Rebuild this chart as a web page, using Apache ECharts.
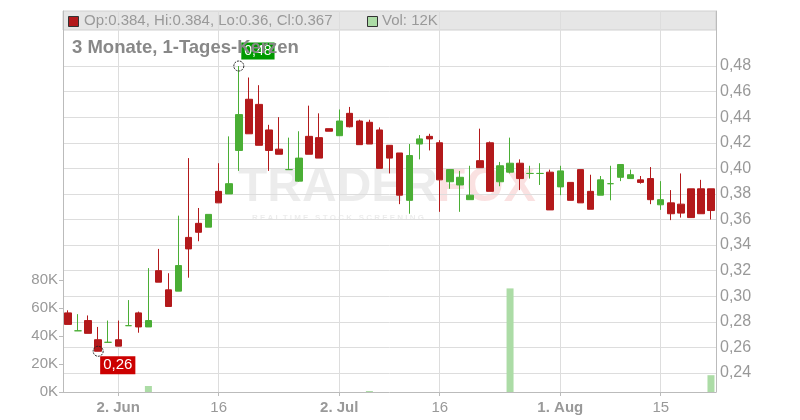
<!DOCTYPE html>
<html><head><meta charset="utf-8">
<script src="https://cdn.jsdelivr.net/npm/echarts@6/dist/echarts.min.js"></script>
<style>html,body{margin:0;padding:0;background:#fff}#c{width:800px;height:420px}</style>
</head><body><div id="c"></div>
<script>
const dates = [
 '2025-05-26','2025-05-27','2025-05-28','2025-05-29','2025-05-30',
 '2025-06-02','2025-06-03','2025-06-04','2025-06-05','2025-06-06',
 '2025-06-09','2025-06-10','2025-06-11','2025-06-12','2025-06-13',
 '2025-06-16','2025-06-17','2025-06-18','2025-06-19','2025-06-20',
 '2025-06-23','2025-06-24','2025-06-25','2025-06-26','2025-06-27',
 '2025-06-30','2025-07-01','2025-07-02','2025-07-03','2025-07-04',
 '2025-07-07','2025-07-08','2025-07-09','2025-07-10','2025-07-11',
 '2025-07-14','2025-07-15','2025-07-16','2025-07-17','2025-07-18',
 '2025-07-21','2025-07-22','2025-07-23','2025-07-24','2025-07-25',
 '2025-07-28','2025-07-29','2025-07-30','2025-07-31','2025-08-01',
 '2025-08-04','2025-08-05','2025-08-06','2025-08-07','2025-08-08',
 '2025-08-11','2025-08-12','2025-08-13','2025-08-14','2025-08-15',
 '2025-08-18','2025-08-19','2025-08-20','2025-08-21','2025-08-22'
];
const opens = [
 0.287,0.273,0.281,0.266,0.264, 0.266,0.277,0.287,0.276,0.320,
 0.305,0.304,0.346,0.357,0.354, 0.382,0.380,0.414,0.454,0.450,
 0.430,0.415,0.399,0.390,0.425, 0.424,0.431,0.4255,0.443,0.437,
 0.436,0.430,0.418,0.412,0.375, 0.419,0.425,0.420,0.3895,0.387,
 0.3755,0.406,0.420,0.3895,0.397, 0.404,0.396,0.396,0.397,0.3855,
 0.389,0.399,0.382,0.379,0.388, 0.393,0.392,0.391,0.392,0.3715,
 0.373,0.372,0.384,0.384,0.384
];
const closes = [
 0.278,0.273,0.271,0.257,0.264, 0.261,0.277,0.276,0.281,0.311,
 0.292,0.324,0.337,0.350,0.364, 0.373,0.388,0.442,0.427,0.418,
 0.414,0.411,0.399,0.408,0.411, 0.408,0.429,0.437,0.4325,0.4185,
 0.419,0.400,0.408,0.379,0.410, 0.423,0.423,0.391,0.399,0.393,
 0.379,0.4005,0.382,0.402,0.404, 0.392,0.396,0.396,0.3675,0.398,
 0.375,0.373,0.368,0.391,0.388, 0.403,0.395,0.389,0.3755,0.3755,
 0.3645,0.365,0.3615,0.3645,0.367
];
const lows = [
 0.278,0.273,0.271,0.257,0.264, 0.261,0.277,0.2715,0.276,0.311,
 0.292,0.304,0.3145,0.343,0.354, 0.373,0.380,0.398,0.427,0.418,
 0.398,0.411,0.399,0.3895,0.411, 0.408,0.429,0.4255,0.432,0.4185,
 0.419,0.400,0.396,0.372,0.3645, 0.407,0.414,0.366,0.384,0.366,
 0.3755,0.4005,0.382,0.386,0.396, 0.383,0.392,0.387,0.3675,0.379,
 0.375,0.373,0.368,0.379,0.375, 0.390,0.392,0.388,0.372,0.3675,
 0.3595,0.3615,0.3615,0.3645,0.360
];
const highs = [
 0.289,0.286,0.285,0.276,0.281, 0.281,0.297,0.288,0.322,0.337,
 0.318,0.363,0.408,0.369,0.364, 0.404,0.425,0.480,0.471,0.465,
 0.434,0.440,0.424,0.429,0.449, 0.443,0.431,0.446,0.448,0.438,
 0.438,0.432,0.418,0.412,0.419, 0.426,0.427,0.422,0.399,0.398,
 0.402,0.431,0.421,0.405,0.424, 0.407,0.402,0.404,0.399,0.402,
 0.389,0.399,0.395,0.394,0.402, 0.403,0.399,0.394,0.401,0.390,
 0.383,0.396,0.384,0.391,0.384
];
const volumes = [
 0,0,0,0,0, 0,0,0,4300,0,
 0,0,0,0,0, 0,0,0,0,0,
 0,0,0,0,0, 0,0,0,0,0,
 700,0,0,0,0, 0,0,0,0,0,
 0,0,0,0,74000, 0,0,0,0,0,
 0,0,0,0,0, 0,0,0,0,0,
 0,0,0,0,12000
];
const xTickIndices = [5, 15, 27, 37, 49, 59];
const xTickTexts = ['2. Jun', '16', '2. Jul', '16', '1. Aug', '15'];
const xTickBold = [true, false, true, false, true, false];
const priceMin = 0.24, priceMax = 0.48, priceStep = 0.02;
const volMax = 80000, volStep = 20000;
const titleText = '3 Monate, 1-Tages-Kerzen';

const RED = '#b3191b', GREEN = '#4aae35', VOLGREEN = '#acdca6';
const FONT = '"Liberation Sans", Arial, sans-serif';
const isTick = (i) => xTickIndices.indexOf(i) >= 0;
const comma = (v, d) => v.toFixed(d).replace('.', ',');

const candleData = opens.map((o, i) => [o, closes[i], lows[i], highs[i]]);
let hiIdx = 0, loIdx = 0;
highs.forEach((h, i) => { if (h > highs[hiIdx]) hiIdx = i; });
lows.forEach((l, i) => { if (l < lows[loIdx]) loIdx = i; });
const last = candleData.length - 1;
const fmt3 = v => String(+v.toFixed(3));
const headerText = 'Op:' + fmt3(opens[last]) + ', Hi:' + fmt3(highs[last]) + ', Lo:' + fmt3(lows[last]) + ', Cl:' + fmt3(closes[last]);
const volText = 'Vol: ' + Math.round(volumes[last] / 1000) + 'K';

const chart = echarts.init(document.getElementById('c'), null, {renderer: 'canvas'});
const L = 63, R = 84;
chart.setOption({
  animation: false,
  backgroundColor: '#fff',
  textStyle: {fontFamily: FONT},
  grid: [
    {left: L, right: R, top: 11, bottom: 28},
    {left: L, right: R, top: 66, bottom: 47},
    {left: L, right: R, top: 280, bottom: 28}
  ],
  xAxis: [
    {type: 'category', gridIndex: 0, data: dates, boundaryGap: true,
     axisLine: {lineStyle: {color: '#bbb'}},
     axisTick: {show: true, alignWithLabel: true, interval: (i) => isTick(i), length: 4, lineStyle: {color: '#bbb'}},
     axisLabel: {interval: (i) => isTick(i), margin: 8, color: '#999', fontSize: 15, fontFamily: FONT,
       formatter: (v, i) => { const k = xTickIndices.indexOf(i); if (k < 0) return ''; return xTickBold[k] ? '{b|' + xTickTexts[k] + '}' : xTickTexts[k]; },
       rich: {b: {fontWeight: 'bold', color: '#999', fontSize: 15, fontFamily: FONT}}},
     splitLine: {show: true, alignWithLabel: true, interval: (i) => isTick(i), lineStyle: {color: '#ddd'}}},
    {type: 'category', gridIndex: 1, data: dates, boundaryGap: true, show: false},
    {type: 'category', gridIndex: 2, data: dates, boundaryGap: true, show: false}
  ],
  yAxis: [
    {type: 'value', gridIndex: 0, position: 'left', min: 0, max: 1,
     axisLine: {show: true, lineStyle: {color: '#bbb'}}, axisTick: {show: false}, axisLabel: {show: false}, splitLine: {show: false}},
    {type: 'value', gridIndex: 0, position: 'right', min: 0, max: 1,
     axisLine: {show: true, lineStyle: {color: '#bbb'}}, axisTick: {show: false}, axisLabel: {show: false}, splitLine: {show: false}},
    {type: 'value', gridIndex: 1, position: 'right', min: priceMin, max: priceMax, interval: priceStep,
     axisLine: {show: false}, axisTick: {show: false},
     axisLabel: {color: '#999', fontSize: 16, margin: 4, fontFamily: FONT, formatter: v => comma(v, 2)},
     splitLine: {show: true, lineStyle: {color: '#ddd'}}},
    {type: 'value', gridIndex: 2, position: 'left', min: 0, max: volMax, interval: volStep,
     axisLine: {show: false}, axisTick: {show: true, length: 4, lineStyle: {color: '#bbb'}},
     axisLabel: {color: '#999', fontSize: 15, margin: 5, fontFamily: FONT, formatter: v => (v / 1000) + 'K'},
     splitLine: {show: false}}
  ],
  series: [
    {type: 'bar', xAxisIndex: 2, yAxisIndex: 3, data: volumes, barWidth: 7,
     itemStyle: {color: VOLGREEN}, silent: true, z: 1},
    {type: 'candlestick', xAxisIndex: 1, yAxisIndex: 2, data: candleData, barWidth: 7, clip: false,
     itemStyle: {color: GREEN, color0: RED, borderColor: GREEN, borderColor0: RED, borderColorDoji: GREEN, borderWidth: 1},
     silent: true, z: 3},
    {type: 'scatter', xAxisIndex: 1, yAxisIndex: 2, symbol: 'circle', symbolSize: 10, silent: true, z: 6,
     itemStyle: {color: 'rgba(0,0,0,0)', borderColor: '#222', borderWidth: 1, borderType: [2, 1], opacity: 1},
     data: [
       {value: [hiIdx, highs[hiIdx]], label: {show: true, position: [8, -18], formatter: () => comma(highs[hiIdx], 2),
         color: '#fff', fontSize: 14, lineHeight: 15, fontFamily: FONT, backgroundColor: '#009a00', padding: [1, 3, 1, 3]}},
       {value: [loIdx, lows[loIdx]], label: {show: true, position: [7.5, 10.5], formatter: () => comma(lows[loIdx], 2),
         color: '#fff', fontSize: 15, lineHeight: 16, fontFamily: FONT, backgroundColor: '#cc0000', padding: [1, 3, 1, 3]}}
     ]}
  ],
  graphic: [
    {type: 'rect', z: -1, shape: {x: 63, y: 11, width: 653, height: 19}, style: {fill: '#e6e6e6', stroke: '#d0d0d0', lineWidth: 1}},
    {type: 'rect', z: 10, shape: {x: 68.5, y: 16.5, width: 10, height: 10}, style: {fill: RED, stroke: '#333', lineWidth: 1}},
    {type: 'text', z: 10, x: 84, y: 21, style: {text: headerText, fill: '#999', font: '15px ' + FONT, textVerticalAlign: 'middle'}},
    {type: 'rect', z: 10, shape: {x: 367.5, y: 16.5, width: 10, height: 10}, style: {fill: VOLGREEN, stroke: '#333', lineWidth: 1}},
    {type: 'text', z: 10, x: 382, y: 21, style: {text: volText, fill: '#999', font: '15px ' + FONT, textVerticalAlign: 'middle'}},
    {type: 'text', z: 100, x: 72, y: 48, style: {text: titleText, fill: '#888', font: 'bold 18.5px ' + FONT, textVerticalAlign: 'middle'}},
    {type: 'text', z: -1, x: 238, y: 188, style: {text: 'TRADER', fill: 'rgba(0,0,0,0.075)', font: 'bold 48px ' + FONT, textVerticalAlign: 'middle'}},
    {type: 'text', z: -1, x: 437, y: 188, style: {text: 'FOX', fill: 'rgba(225,70,70,0.16)', font: 'bold 48px ' + FONT, textVerticalAlign: 'middle'}},
    {type: 'text', z: -1, x: 252, y: 218, style: {text: 'R E A L T I M E   S T O C K   S C R E E N I N G', fill: 'rgba(0,0,0,0.08)', font: 'bold 8px ' + FONT, textVerticalAlign: 'middle'}}
  ]
});
</script>
</body></html>
